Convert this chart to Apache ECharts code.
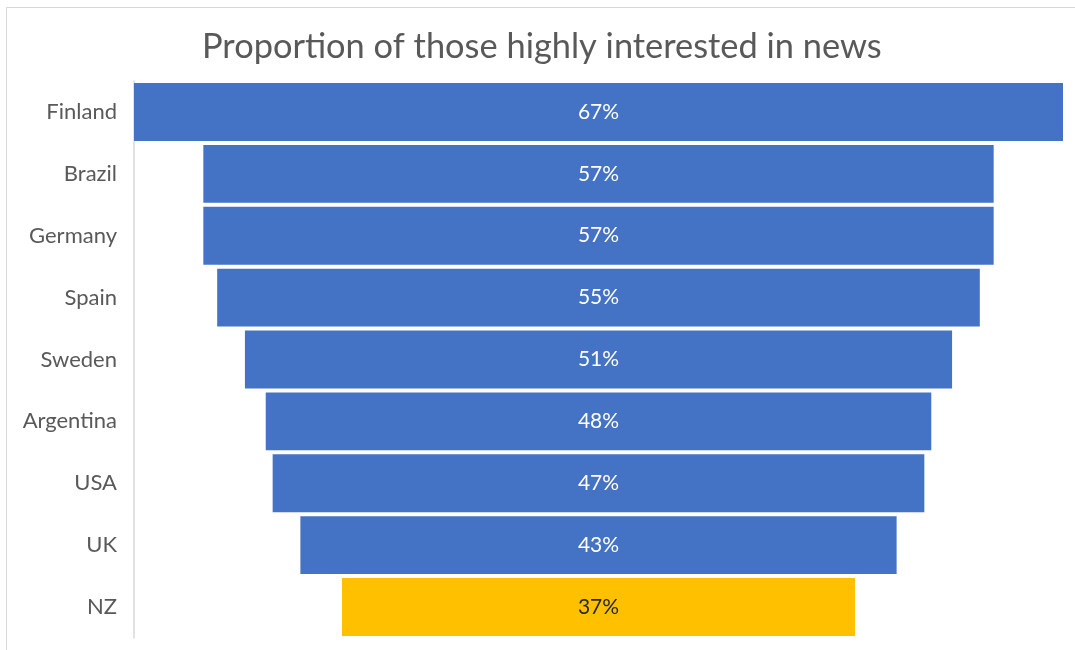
<!DOCTYPE html>
<html>
<head>
<meta charset="utf-8">
<script src="https://cdn.jsdelivr.net/npm/echarts@6/dist/echarts.min.js"></script>
<style>
  html, body { margin: 0; padding: 0; background: #fff; }
  #frame { position: absolute; left: 6px; top: 7px; width: 1080px; height: 660px; border: 1px solid #d9d9d9; box-sizing: border-box; }
  #chart { position: absolute; left: 0; top: 0; width: 1075px; height: 650px; }
</style>
</head>
<body>
<div id="frame"></div>
<div id="chart"></div>
<script>
// Share of people highly interested in news, by country
const countries = ['Finland', 'Brazil', 'Germany', 'Spain', 'Sweden', 'Argentina', 'USA', 'UK', 'NZ'];
const interest = [67, 57, 57, 55, 51, 48, 47, 43, 37];
const highlight = 'NZ';

const BLUE = '#4472C4';
const GOLD = '#FFC000';
const maxVal = Math.max(...interest);

// Invisible spacer centres each bar so the set reads as a funnel
const spacer = interest.map(v => (maxVal - v) / 2);

const chart = echarts.init(document.getElementById('chart'));
chart.setOption({
  animation: false,
  title: {
    text: 'Proportion of those highly interested in news',
    left: 197,
    top: 25,
    textStyle: { fontFamily: 'Lato', fontSize: 34.4, fontWeight: 'normal', color: '#595959' }
  },
  grid: { left: 134, right: 12, top: 81, bottom: 12, containLabel: false },
  xAxis: {
    type: 'value', min: 0, max: maxVal, show: false
  },
  yAxis: {
    type: 'category',
    inverse: true,
    data: countries,
    axisLine: { show: true, lineStyle: { color: '#d9d9d9', width: 1.5 } },
    axisTick: { show: false },
    axisLabel: { fontFamily: 'Lato', fontSize: 22, color: '#595959', margin: 17 }
  },
  series: [
    {
      type: 'bar', stack: 'f', data: spacer, silent: true,
      itemStyle: { color: 'transparent' }, barCategoryGap: '6.5%'
    },
    {
      type: 'bar', stack: 'f', barCategoryGap: '6.5%',
      data: interest.map((v, i) => ({
        value: v,
        itemStyle: { color: countries[i] === highlight ? GOLD : BLUE },
        label: { color: countries[i] === highlight ? '#262626' : '#ffffff' }
      })),
      label: {
        show: true, position: 'inside', formatter: p => p.value + '%',
        fontFamily: 'Lato', fontSize: 21
      }
    }
  ]
});
</script>
</body>
</html>
